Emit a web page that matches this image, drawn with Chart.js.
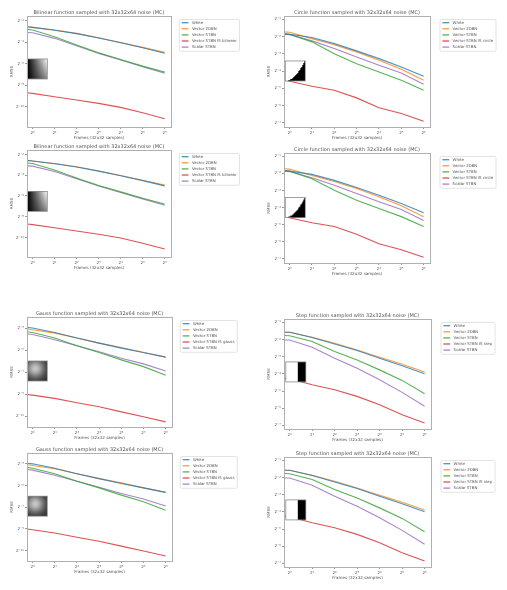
<!DOCTYPE html>
<html><head><meta charset="utf-8">
<script src="https://cdn.jsdelivr.net/npm/chart.js@4.4.0/dist/chart.umd.min.js"></script>
<style>
html,body{margin:0;padding:0;background:#fff;width:507px;height:590px;overflow:hidden;position:relative}
canvas{position:absolute}
</style></head><body>
<script>
// ---- shared ----
const frames = [0.84, 1, 2, 4, 8, 16, 32, 64];
const xTicks = [1, 2, 4, 8, 16, 32, 64];
const xTickLabels = ["2⁰", "2¹", "2²", "2³", "2⁴", "2⁵", "2⁶"];
const seriesNames = ["White", "Vector 2DBN", "Vector STBN", "Vector STBN IS ", "Scalar STBN"];
const seriesColors = ["rgba(31,119,180,0.8)", "rgba(255,127,14,0.8)", "rgba(44,160,44,0.8)", "rgba(214,39,40,0.8)", "rgba(148,103,189,0.8)"];

// ---- bilinear ----
const bilinearWhite  = [0.1696, 0.1625, 0.1358, 0.1088, 0.0825, 0.0604, 0.0436, 0.0308];
const bilinear2DBN   = [0.1696, 0.1625, 0.1368, 0.1104, 0.0836, 0.0616, 0.0448, 0.0324];
const bilinearSTBN   = [0.1427, 0.1368, 0.0890, 0.0522, 0.0317, 0.0206, 0.0134, 0.0091];
const bilinearIS     = [0.002406, 0.002306, 0.001861, 0.001502, 0.001211, 0.000937, 0.000662, 0.000449];
const bilinearScalar = [0.1175, 0.1150, 0.0802, 0.0497, 0.0304, 0.0198, 0.0129, 0.0084];
const bilinearYTicks = [0.25, 0.0625, 0.015625, 0.00390625, 0.0009765625];
const bilinearYTickLabels = ["2⁻²", "2⁻⁴", "2⁻⁶", "2⁻⁸", "2⁻¹⁰"];

// ---- circle ----
const circleWhite  = [0.281, 0.2735, 0.240, 0.188, 0.1406, 0.103, 0.0737, 0.0508];
const circle2DBN   = [0.301, 0.297, 0.230, 0.180, 0.135, 0.0968, 0.0670, 0.0433];
const circleSTBN   = [0.2735, 0.2735, 0.2017, 0.1258, 0.0842, 0.0604, 0.0433, 0.0290];
const circleIS     = [0.0433, 0.0415, 0.0339, 0.0290, 0.0213, 0.01438, 0.01136, 0.00833];
const circleScalar = [0.2735, 0.270, 0.210, 0.154, 0.1104, 0.0791, 0.0579, 0.0369];
const circleYTicks = [0.5, 0.25, 0.125, 0.0625, 0.03125, 0.015625, 0.0078125];
const circleYTickLabels = ["2⁻¹", "2⁻²", "2⁻³", "2⁻⁴", "2⁻⁵", "2⁻⁶", "2⁻⁷"];

// ---- gauss ----
const gaussWhite  = [0.1303, 0.125, 0.0947, 0.0666, 0.0484, 0.0354, 0.0268, 0.0201];
const gauss2DBN   = [0.1175, 0.1126, 0.0909, 0.0666, 0.0484, 0.0369, 0.0268, 0.0201];
const gaussSTBN   = [0.0994, 0.0947, 0.0666, 0.0409, 0.0268, 0.01688, 0.01105, 0.00639];
const gaussIS     = [0.001926, 0.001848, 0.001502, 0.001137, 0.000886, 0.000644, 0.000472, 0.000343];
const gaussScalar = [0.0872, 0.0836, 0.0600, 0.0409, 0.0280, 0.01872, 0.01314, 0.00844];
const gaussYTicks = [0.125, 0.03125, 0.0078125, 0.001953125, 0.00048828125];
const gaussYTickLabels = ["2⁻³", "2⁻⁵", "2⁻⁷", "2⁻⁹", "2⁻¹¹"];

// ---- step ----
const stepWhite  = [0.334, 0.334, 0.270, 0.2088, 0.160, 0.1175, 0.0866, 0.0625];
const step2DBN   = [0.334, 0.334, 0.2735, 0.2146, 0.164, 0.1224, 0.0921, 0.0670];
const stepSTBN   = [0.293, 0.290, 0.230, 0.154, 0.1095, 0.0733, 0.0480, 0.0280];
const stepIS     = [0.0526, 0.0511, 0.0401, 0.0328, 0.0252, 0.01794, 0.0120, 0.00861];
const stepScalar = [0.245, 0.245, 0.183, 0.1175, 0.0786, 0.0491, 0.0296, 0.01688];
const stepYTicks = circleYTicks;
const stepYTickLabels = circleYTickLabels;

const FONT = "DejaVu Sans";
const TXT = "#555";

function insetCanvas(kind) {
  const c = document.createElement('canvas');
  c.width = 20; c.height = 20;
  const g = c.getContext('2d');
  const im = g.createImageData(20, 20);
  for (let y = 0; y < 20; y++) for (let x = 0; x < 20; x++) {
    const u = (x + 0.5) / 20, v = (y + 0.5) / 20;
    let val = 1;
    if (kind === 'bilinear') val = u * (1 - 0.45 * v);
    else if (kind === 'circle') val = (1 - v) < u * u * 1.05 ? 0 : 1;
    else if (kind === 'gauss') val = 0.18 + 0.6 * Math.exp(-((u - 0.4) ** 2 + (v - 0.38) ** 2) / 0.2);
    else if (kind === 'step') val = u < 0.62 ? 1 : 0;
    const k = (y * 20 + x) * 4, gv = Math.round(val * 255);
    im.data[k] = im.data[k + 1] = im.data[k + 2] = gv; im.data[k + 3] = 255;
  }
  g.putImageData(im, 0, 0);
  return c;
}

const mplPlugin = {
  id: 'mpl',
  afterDatasetsDraw(chart) {
    const o = chart.options.plugins.mpl, ca = chart.chartArea, ctx = chart.ctx;
    const ix = ca.left + o.insetDx, iy = ca.top + o.insetFy * (ca.bottom - ca.top);
    ctx.save();
    ctx.imageSmoothingEnabled = true;
    ctx.drawImage(o.inset, ix, iy, 20, 20);
    ctx.strokeStyle = '#888'; ctx.lineWidth = 0.8;
    ctx.strokeRect(ix, iy, 20, 20);
    ctx.restore();
  },
  afterDraw(chart) {
    const o = chart.options.plugins.mpl, ca = chart.chartArea, ctx = chart.ctx;
    ctx.save();
    ctx.strokeStyle = '#b0b0b0'; ctx.lineWidth = 1;
    ctx.strokeRect(Math.round(ca.left) + 0.5, Math.round(ca.top) + 0.5,
      Math.round(ca.right - ca.left), Math.round(ca.bottom - ca.top));
    const fs = 3.9;
    ctx.font = fs + 'px "' + FONT + '"';
    const ds = chart.data.datasets;
    let tw = 0;
    ds.forEach(d => { tw = Math.max(tw, ctx.measureText(d.label).width); });
    const x0 = ca.right + o.legDx, y0 = ca.top + 3.5;
    const w = tw + 15.5, h = ds.length * 6.1 + 1.3;
    ctx.fillStyle = 'rgba(255,255,255,0.9)';
    ctx.strokeStyle = '#dcdcdc'; ctx.lineWidth = 0.8;
    ctx.beginPath();
    if (ctx.roundRect) ctx.roundRect(x0, y0, w, h, 1.5); else ctx.rect(x0, y0, w, h);
    ctx.fill(); ctx.stroke();
    ds.forEach((d, i) => {
      const yy = y0 + 3.2 + i * 6.1;
      ctx.strokeStyle = d.borderColor; ctx.lineWidth = 1.3;
      ctx.beginPath(); ctx.moveTo(x0 + 2.4, yy); ctx.lineTo(x0 + 9.2, yy); ctx.stroke();
      ctx.fillStyle = TXT; ctx.textBaseline = 'middle'; ctx.textAlign = 'left';
      ctx.fillText(d.label, x0 + 12.6, yy);
    });
    ctx.restore();
  }
};

function makeChart(cfg) {
  const [l, t, r, b] = cfg.box;
  const YW = 27, TH = 6, XH = 16, RP = 80;
  const cv = document.createElement('canvas');
  const W = YW + (r - l) + RP, H = TH + (b - t) + XH;
  cv.width = W; cv.height = H;
  cv.style.left = (l - YW) + 'px'; cv.style.top = (t - TH) + 'px';
  cv.style.width = W + 'px'; cv.style.height = H + 'px';
  document.body.appendChild(cv);
  const datasets = cfg.series.map((s, i) => ({
    label: seriesNames[i] + (i === 3 ? cfg.fn : ''),
    data: frames.map((f, j) => ({ x: f, y: s[j] })),
    borderColor: seriesColors[i], backgroundColor: seriesColors[i],
    borderWidth: 1.1, pointRadius: 0, tension: 0, fill: false
  }));
  const tickFont = { size: 4.1, family: FONT };
  new Chart(cv, {
    type: 'line',
    data: { datasets },
    plugins: [mplPlugin],
    options: {
      responsive: false, animation: false, devicePixelRatio: 1,
      layout: { padding: { left: 0, top: 0, bottom: 0, right: RP } },
      plugins: {
        legend: { display: false }, tooltip: { enabled: false },
        title: { display: true, text: cfg.title, fullSize: false, color: TXT,
          font: { size: 5, family: FONT, weight: 'normal', lineHeight: 1.2 }, padding: 0 },
        mpl: { inset: insetCanvas(cfg.fn), insetDx: cfg.insetDx, insetFy: cfg.insetFy, legDx: cfg.legDx }
      },
      scales: {
        x: {
          type: 'logarithmic', min: 0.84, max: 78,
          afterBuildTicks: ax => { ax.ticks = xTicks.map(v => ({ value: v })); },
          afterFit: ax => { ax.height = XH; },
          ticks: { callback: (v, i) => xTickLabels[i], font: tickFont, color: TXT, padding: 1, autoSkip: false, maxRotation: 0 },
          grid: { display: true, drawOnChartArea: false, drawTicks: true, tickLength: 2, color: '#999' },
          border: { display: true, color: '#b0b0b0' },
          title: { display: true, text: 'Frames (32x32 samples)', color: TXT, font: tickFont, padding: { top: 0, bottom: 2.4 } }
        },
        y: {
          type: 'logarithmic', min: cfg.yMin, max: cfg.yMax,
          afterBuildTicks: ax => { ax.ticks = cfg.yTicks.map(v => ({ value: v })); },
          afterFit: ax => { ax.width = YW; },
          ticks: { callback: (v, i) => cfg.yLabels[i], font: tickFont, color: TXT, padding: 1, autoSkip: false },
          grid: { display: true, drawOnChartArea: false, drawTicks: true, tickLength: 2, color: '#999' },
          border: { display: true, color: '#b0b0b0' },
          title: { display: true, text: 'RMSE', color: TXT, font: tickFont, padding: { top: 9, bottom: 0 } }
        }
      }
    }
  });
}

const bilinearSeries = [bilinearWhite, bilinear2DBN, bilinearSTBN, bilinearIS, bilinearScalar];
const circleSeries = [circleWhite, circle2DBN, circleSTBN, circleIS, circleScalar];
const gaussSeries = [gaussWhite, gauss2DBN, gaussSTBN, gaussIS, gaussScalar];
const stepSeries = [stepWhite, step2DBN, stepSTBN, stepIS, stepScalar];

const T = f => f + ' function sampled with 32x32x64 noise (MC)';
const specs = [
  { box: [27, 16, 171, 127], fn: 'bilinear', title: T('Bilinear'), series: bilinearSeries, yMin: 0.000264, yMax: 0.339, yTicks: bilinearYTicks, yLabels: bilinearYTickLabels, insetDx: 0.3, insetFy: 0.387, legDx: 8.3 },
  { box: [284, 16, 430, 127], fn: 'circle', title: T('Circle'), series: circleSeries, yMin: 0.00662, yMax: 0.570, yTicks: circleYTicks, yLabels: circleYTickLabels, insetDx: 1.3, insetFy: 0.405, legDx: 10 },
  { box: [27, 150, 171, 257], fn: 'bilinear', title: T('Bilinear'), series: bilinearSeries, yMin: 0.000264, yMax: 0.339, yTicks: bilinearYTicks, yLabels: bilinearYTickLabels, insetDx: 0.3, insetFy: 0.387, legDx: 8.3 },
  { box: [284, 153, 430, 263], fn: 'circle', title: T('Circle'), series: circleSeries, yMin: 0.00662, yMax: 0.570, yTicks: circleYTicks, yLabels: circleYTickLabels, insetDx: 1.3, insetFy: 0.405, legDx: 10 },
  { box: [27, 317, 172, 427], fn: 'gauss', title: T('Gauss'), series: gaussSeries, yMin: 0.000249, yMax: 0.25, yTicks: gaussYTicks, yLabels: gaussYTickLabels, insetDx: 0.3, insetFy: 0.40, legDx: 8.3 },
  { box: [284, 319, 431, 429], fn: 'step', title: T('Step'), series: stepSeries, yMin: 0.00676, yMax: 0.570, yTicks: stepYTicks, yLabels: stepYTickLabels, insetDx: 1.8, insetFy: 0.39, legDx: 10 },
  { box: [27, 453, 172, 561], fn: 'gauss', title: T('Gauss'), series: gaussSeries, yMin: 0.000249, yMax: 0.25, yTicks: gaussYTicks, yLabels: gaussYTickLabels, insetDx: 0.3, insetFy: 0.40, legDx: 8.3 },
  { box: [284, 457, 431, 567], fn: 'step', title: T('Step'), series: stepSeries, yMin: 0.00676, yMax: 0.570, yTicks: stepYTicks, yLabels: stepYTickLabels, insetDx: 1.8, insetFy: 0.39, legDx: 10 }
];
specs.forEach(makeChart);
</script>
</body></html>
